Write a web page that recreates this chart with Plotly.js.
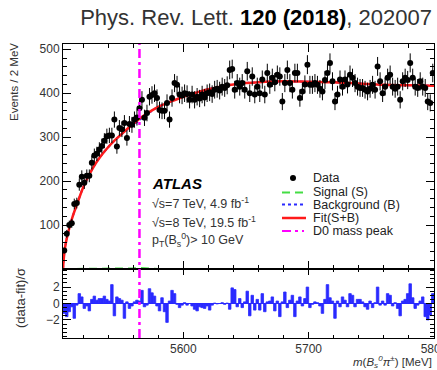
<!DOCTYPE html>
<html><head><meta charset="utf-8">
<script src="https://cdn.plot.ly/plotly-3.0.1.min.js"></script>
<style>html,body{margin:0;padding:0;background:#fff}#chart{width:437px;height:370px}</style>
</head><body><div id="chart"></div>
<script>
// ---- data ----
const binStart = 5504, binWidth = 2;
const counts = [42,80,100,104,148,150,192,210,196,212, 212,242,258,262,272,280,292,302,304,304,
 340,279,321,318,332,298,330,328,340,345, 366,385,344,355,392,396,400,389,362,360,
 360,378,340,389,423,419,397,395,400,398, 385,397,385,392,388,397,390,400,402,398,
 408,410,406,415,412,418,453,455,408,423, 415,423,408,450,400,438,397,415,400,431,
 397,446,419,435,425,442,438,381,423,453, 423,408,446,446,389,404,420,465,419,419,
 423,419,410,404,430,446,469,427,381,397, 431,415,431,420,442,435,423,415,412,412,
 408,404,410,419,408,461,427,400,415,435, 442,415,410,415,385,427,435,430,469,435,
 415,412,427,415,412,381,378,446];
const pulls = [-1.2,-1.6,-1.0,-0.4,-1.8,-0.2,1.2,0.8,-0.6,-0.3,
 -0.9,0.5,0.9,0.4,0.6,0.6,0.9,0.5,0.3,2.3, -1.5,0.8,0.6,0.4,-1.8,0.2,-0.6,-0.3,0.2,0.4,
 0.3,1.6,-0.4,-0.2,1.8,1.3,0.9,-0.3,-0.9,0.7, -1.0,-2.3,0.3,1.6,1.2,-0.1,-0.5,-0.2,0.1,-0.2,
 0.0,-0.3,-0.7,-0.9,-0.4,-0.5,-0.6,-0.3,-0.8,-0.2, 0.05,-0.05,0.0,0.1,-0.1,0.05,-0.7,1.9,1.7,-0.4,
 0.6,-0.5,0.2,1.5,-1.5,1.0,-0.8,0.5,-0.8,1.2, -1.0,0.2,0.3,0.8,-0.9,0.3,-1.6,0.2,1.4,-0.5,
 0.4,1.0,-1.6,0.3,0.8,-0.3,0.6,2.0,-0.5,-0.1, 0.2,0.1,-0.3,-1.2,0.5,2.3,0.7,0.3,-1.8,0.3,
 -0.4,0.8,0.4,-0.4,1.2,1.0,-0.4,0.5,0.5,0.2, -0.4,-0.7,0.3,-0.5,0.1,2.0,-0.2,0.3,-0.2,1.2,
 1.0,-0.3,0.1,-0.6,-1.5,0.3,0.5,1.2,2.4,0.7, -0.6,-0.2,0.3,0.8,-1.6,-2.0,-1.4,1.2];
const fitX = [5504,5505,5506,5508,5510,5512,5515,5520,5525,5530,5535,5540,5545,5550,5555,5560,5565,5570,5575,5580,5590,5600,5610,5620,5630,5640,5650,5660,5680,5700,5720,5740,5760,5780,5800];
const fitY = [0,35,55,82,103,122,146,185,215,240,260,277,292,305,318,330,342,352,361,369,381,392,401,409,415,420,423,425,427,426,425,422,419,418,417];
const bkgY = [0,35,55,82,103,122,146,185,215,240,260,277,292,305,317,328,339,350,360,369,381,392,401,409,415,420,423,425,427,426,425,422,419,418,417];
const sigX = [5504,5550,5555,5560,5565,5570,5575,5580,5800];
const sigY = [0,0,0.5,1.5,2.5,1.5,0.5,0,0];
const d0Peak = 5565;
const xTicks = [5600,5700,5800];
const yTicks = [100,200,300,400,500];
const pullTicks = [-2,0,2];
const pullTickText = ['\u22122','0','2'];
const legendLabels = ['Data','Signal (S)','Background (B)','Fit(S+B)','D0 mass peak'];

// ---- build ----
const centers = counts.map((_, i) => binStart + binWidth * (i + 0.5));
const FONT = 'Liberation Sans, Arial, Helvetica, sans-serif';
const TXT = '#333';
const RED = '#ff1a1a', BLUE = '#2a2aff', GREEN = '#44dd44', MAG = '#ff00ff';

const traces = [
  {x: sigX, y: sigY, xaxis:'x', yaxis:'y', mode:'lines', line:{color:GREEN, width:2, dash:'8px,5px'}, hoverinfo:'skip'},
  {x: fitX, y: bkgY, xaxis:'x', yaxis:'y', mode:'lines', line:{color:BLUE, width:2, dash:'dot', shape:'spline'}, hoverinfo:'skip'},
  {x: fitX, y: fitY, xaxis:'x', yaxis:'y', mode:'lines', line:{color:RED, width:2.5, shape:'spline'}, hoverinfo:'skip'},
  {x: centers, y: counts, xaxis:'x', yaxis:'y', mode:'markers', marker:{color:'#000', size:6},
   error_y:{type:'sqrt', color:'#000', thickness:1, width:0},
   error_x:{type:'constant', value:binWidth/2, color:'#000', thickness:1, width:0}},
  {x: centers, y: pulls, xaxis:'x2', yaxis:'y2', type:'bar', width:binWidth, marker:{color:BLUE, line:{color:BLUE, width:0.8}}}
];

const L = 63, R = 3, T = 44, B = 32, W = 437, H = 370;
const pw = W - L - R, ph = H - T - B;
const px = v => (v - L) / pw;
const py = v => (H - B - v) / ph;
const split = (H - B - 269) / ph;

const axBase = {showline:true, linecolor:'#000', linewidth:1, mirror:'ticks', ticks:'inside', tickcolor:'#000',
  showgrid:false, zeroline:false, ticklabeloverflow:'allow', tickfont:{family:FONT, size:12, color:TXT}};

const layout = {
  width: W, height: H, margin:{l:L, r:R, t:T, b:B, pad:0},
  paper_bgcolor:'#fff', plot_bgcolor:'#fff', showlegend:false, bargap:0,
  font:{family:FONT, color:TXT},
  title:{text:'Phys. Rev. Lett. <b><span style="color:#000">120 (2018)</span></b>, 202007',
    font:{family:FONT, size:22, color:'#333'}, xref:'container', x:432/W, xanchor:'right',
    yref:'container', y:1 - 17/H, yanchor:'middle'},
  xaxis: Object.assign({}, axBase, {domain:[0,1], anchor:'y', range:[5504,5800], tickvals:xTicks, ticklen:8,
    showticklabels:false, minor:{tickmode:'linear', tick0:5500, dtick:20, ticks:'inside', ticklen:4, tickcolor:'#000'}}),
  yaxis: Object.assign({}, axBase, {domain:[split,1], anchor:'x', range:[0,512], tickvals:yTicks, ticklen:8,
    minor:{tickmode:'linear', tick0:0, dtick:20, ticks:'inside', ticklen:4, tickcolor:'#000'}}),
  xaxis2: Object.assign({}, axBase, {domain:[0,1], anchor:'y2', matches:'x', range:[5504,5800], tickvals:xTicks, ticklen:6,
    minor:{tickmode:'linear', tick0:5500, dtick:20, ticks:'inside', ticklen:3, tickcolor:'#000'}}),
  yaxis2: Object.assign({}, axBase, {domain:[0,split], anchor:'x2', range:[-4.2,4.2], tickvals:pullTicks, ticktext:pullTickText, ticklen:8,
    zeroline:true, zerolinecolor:BLUE, zerolinewidth:1.5,
    minor:{tickmode:'linear', tick0:0, dtick:0.5, ticks:'inside', ticklen:4, tickcolor:'#000'}}),
  shapes: [
    {type:'line', xref:'x', yref:'paper', x0:d0Peak, x1:d0Peak, y0:0, y1:1, line:{color:MAG, width:2.5, dash:'9px,4px,3px,4px'}},
    // legend glyphs
    {type:'circle', xref:'paper', yref:'paper', x0:px(290), x1:px(296), y0:py(181), y1:py(175), fillcolor:'#000', line:{width:0}},
    {type:'line', xref:'paper', yref:'paper', x0:px(282), x1:px(306), y0:py(192.5), y1:py(192.5), line:{color:GREEN, width:2, dash:'8px,5px'}},
    {type:'line', xref:'paper', yref:'paper', x0:px(282), x1:px(306), y0:py(204.5), y1:py(204.5), line:{color:BLUE, width:2, dash:'dot'}},
    {type:'line', xref:'paper', yref:'paper', x0:px(282), x1:px(306), y0:py(218), y1:py(218), line:{color:RED, width:2.5}},
    {type:'line', xref:'paper', yref:'paper', x0:px(282), x1:px(304), y0:py(231), y1:py(231), line:{color:MAG, width:2, dash:'9px,4px,3px,4px'}}
  ],
  annotations: []
};

const ann = (text, x, y, opts) => layout.annotations.push(Object.assign({text, xref:'paper', yref:'paper', x:px(x), y:py(y),
  xanchor:'left', yanchor:'middle', showarrow:false, font:{family:FONT, size:12.5, color:'#222'}}, opts || {}));

const legY = [178, 192.5, 204.5, 218, 231];
legendLabels.forEach((t, i) => ann(t, 311, legY[i]));

ann('<b><i>ATLAS</i></b>', 150, 183, {font:{family:FONT, size:15, color:'#000'}});
ann('\u221As=7 TeV, 4.9 fb<sup>-1</sup>', 150, 203, {font:{family:FONT, size:12.5, color:'#333'}});
ann('\u221As=8 TeV, 19.5 fb<sup>-1</sup>', 150, 222, {font:{family:FONT, size:12.5, color:'#333'}});
ann('p<sub>T</sub>(B<sub>s</sub><sup>0</sup>)> 10 GeV', 150, 240, {font:{family:FONT, size:12.5, color:'#333'}});

ann('Events / 2 MeV', 14, 82, {xanchor:'center', textangle:-90, font:{family:FONT, size:11.5, color:TXT}});
ann('(data-fit)/\u03C3', 20, 298, {xanchor:'center', textangle:-90, font:{family:FONT, size:13, color:TXT}});
ann('<i>m</i>(<i>B</i><sub><i>s</i></sub><sup><i>0</i></sup><i>\u03C0</i><sup>\u00B1</sup>) [MeV]', 434, 362,
  {xanchor:'right', font:{family:FONT, size:11.5, color:TXT}});

Plotly.newPlot('chart', traces, layout, {displayModeBar:false, staticPlot:true});
</script></body></html>
